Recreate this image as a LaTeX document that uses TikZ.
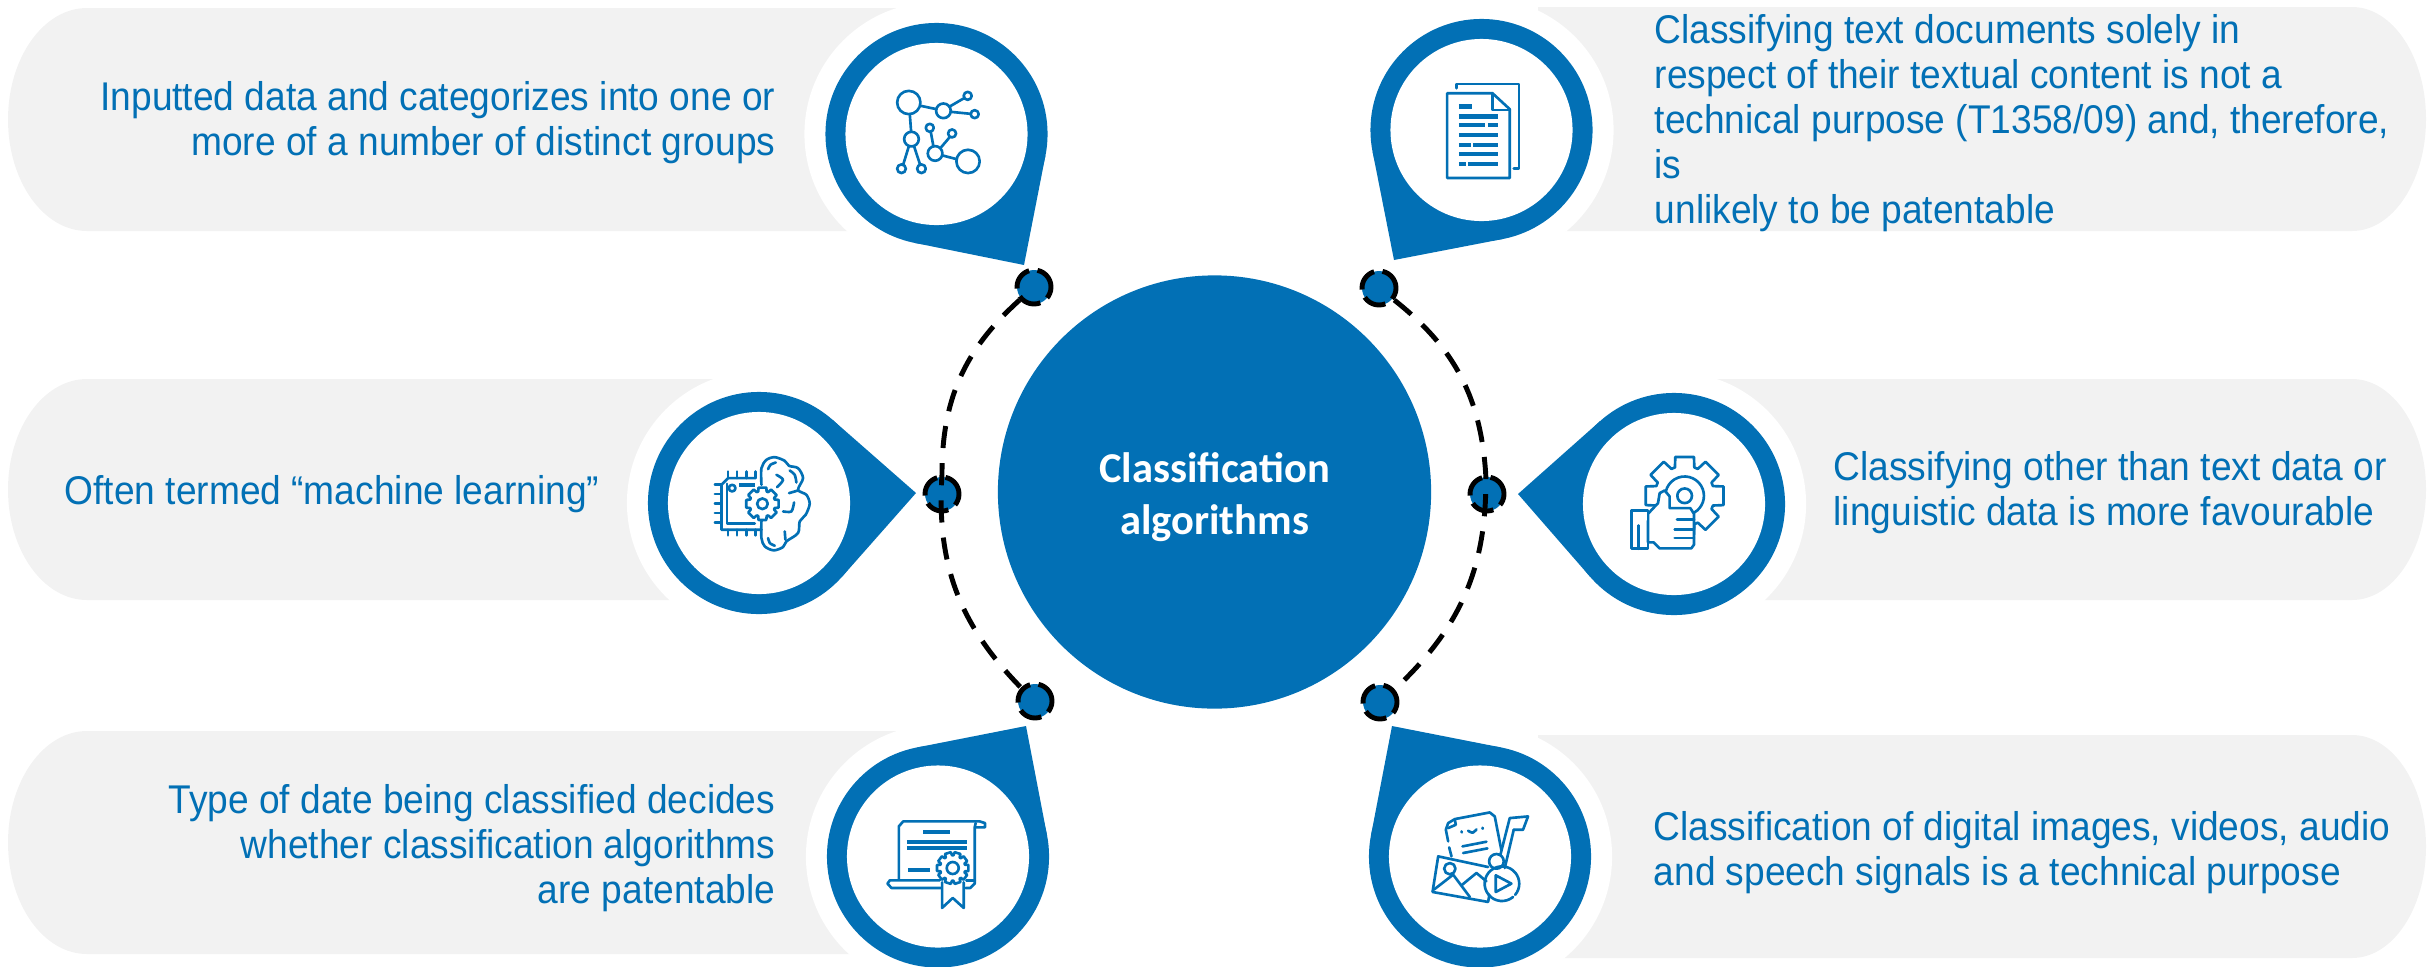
\documentclass[tikz,border=0pt]{standalone}
\usepackage{fontspec}
\setmainfont[FakeStretch=0.926]{Liberation Sans}
\newfontfamily\hubfont{Carlito}
\usetikzlibrary{calc}
\definecolor{pinblue}{HTML}{0270B5}
\definecolor{pillgrey}{HTML}{F2F2F2}
\tikzset{
  halo/.style={circle,fill=white,inner sep=0,outer sep=0,minimum size=2.64cm},
  pinbody/.style={circle,fill=pinblue,inner sep=0,outer sep=0,minimum size=2.22cm},
  pinhole/.style={circle,fill=white,inner sep=0,outer sep=0,minimum size=1.82cm},
  hub/.style={circle,fill=pinblue,inner sep=0,minimum size=4.33cm},
  hubtext/.style={text=white,inner sep=0,align=center,font=\hubfont\bfseries\fontsize{12.1}{14.8}\selectfont},
  dot/.style={circle,fill=pinblue,draw=black,line width=1.4pt,dash pattern=on 6.6pt off 2.4pt,inner sep=0,minimum size=0.34cm},
  ring/.style={line width=1.4pt,dash pattern=on 6.3pt off 4.3pt},
  blurb/.style={text=pinblue,inner sep=0,font=\fontsize{11.4}{12.8}\selectfont},
  zoomed/.style={x=0.0033333cm,y=-0.0033333cm},
  icon/.style={draw=pinblue,line width=0.75pt,line cap=round,line join=round},
  iconbar/.style={draw=pinblue,line width=1.15pt},
}
\newcommand{\cogwheel}[3]{%
  \draw[icon,fill=white] ({-0.3*#1}:#2) \foreach \a in {0,#1,...,359} {
    -- ({\a+0.3*#1}:#2) -- ({\a+0.42*#1}:#3) -- ({\a+0.58*#1}:#3) -- ({\a+0.7*#1}:#2)} -- cycle;}
\begin{document}
\begin{tikzpicture}[x=0.01cm,y=-0.01cm]
  \useasboundingbox (0,0) rectangle (2433,966);

  \fill[pillgrey] (940,8) -- (87,8) arc[start angle=270,end angle=90,x radius=79,y radius=111.5] -- (940,231) -- cycle;
  \fill[pillgrey] (760,379) -- (87,379) arc[start angle=270,end angle=90,x radius=79,y radius=110.5] -- (760,600) -- cycle;
  \fill[pillgrey] (940,731) -- (87,731) arc[start angle=270,end angle=90,x radius=79,y radius=111.5] -- (940,954) -- cycle;
  \fill[pillgrey] (1538,7) -- (2352,7) arc[start angle=-90,end angle=90,x radius=74,y radius=112] -- (1538,231) -- cycle;
  \fill[pillgrey] (1680,379) -- (2352,379) arc[start angle=-90,end angle=90,x radius=74,y radius=110.5] -- (1680,600) -- cycle;
  \fill[pillgrey] (1538,735) -- (2352,735) arc[start angle=-90,end angle=90,x radius=74,y radius=111.5] -- (1538,958) -- cycle;

  \node[halo] (haloTL) at (936.5,134) {};
  \node[halo] (haloML) at (759,503) {};
  \node[halo] (haloBL) at (938,856.5) {};
  \node[halo] (haloTR) at (1481.5,130) {};
  \node[halo] (haloMR) at (1674,504) {};
  \node[halo] (haloBR) at (1480,856.5) {};

  \coordinate (tipTL) at (1024,265);
  \coordinate (tipML) at (916,493);
  \coordinate (tipBL) at (1026,726);
  \coordinate (tipTR) at (1394,260);
  \coordinate (tipMR) at (1518,494);
  \coordinate (tipBR) at (1392,726);

  \node[pinbody] (pinTL) at (936.5,134) {};
  \node[pinbody] (pinML) at (759,503) {};
  \node[pinbody] (pinBL) at (938,856.5) {};
  \node[pinbody] (pinTR) at (1481.5,130) {};
  \node[pinbody] (pinMR) at (1674,504) {};
  \node[pinbody] (pinBR) at (1480,856.5) {};

  \foreach \pos in {TL,ML,BL,TR,MR,BR}
    \fill[pinblue] (tip\pos) -- (tangent cs:node=pin\pos,point={(tip\pos)},solution=1)
      -- (tangent cs:node=pin\pos,point={(tip\pos)},solution=2) -- cycle;

  \node[pinhole] (holeTL) at (936.5,134) {};
  \node[pinhole] (holeML) at (759,503) {};
  \node[pinhole] (holeBL) at (938,856.5) {};
  \node[pinhole] (holeTR) at (1481.5,130) {};
  \node[pinhole] (holeMR) at (1674,504) {};
  \node[pinhole] (holeBR) at (1480,856.5) {};

  \node[hub] (hub) at (1214.5,492) {};
  \node[hubtext] (hubtext) at (1214.5,497) {Classification\\algorithms};

  \node[dot] (dotTL) at (1034,287) {};
  \node[dot] (dotML) at (942,494) {};
  \node[dot] (dotBL) at (1035,701) {};
  \node[dot] (dotTR) at (1379,288) {};
  \node[dot] (dotMR) at (1487,494) {};
  \node[dot] (dotBR) at (1380,702) {};

  \draw[ring] (dotTL) to[bend right=24] (dotML) to[bend right=24] (dotBL);
  \draw[ring] (dotTR) to[bend left=24] (dotMR) to[bend left=24] (dotBR);

  \node[blurb,anchor=east,align=right] (textTL) at (776,123) {Inputted data and categorizes into one or\\more of a number of distinct groups};
  \node[blurb,anchor=west,align=left] (textML) at (64,494) {Often termed “machine learning”};
  \node[blurb,anchor=east,align=right] (textBL) at (776,848) {Type of date being classified decides\\whether classification algorithms\\are patentable};
  \node[blurb,anchor=west,align=left] (textTR) at (1654,123) {Classifying text documents solely in\\respect of their textual content is not a\\technical purpose (T1358/09) and, therefore,\\is\\unlikely to be patentable};
  \node[blurb,anchor=west,align=left] (textMR) at (1833,493) {Classifying other than text data or\\linguistic data is more favourable};
  \node[blurb,anchor=west,align=left] (textBR) at (1653,853) {Classification of digital images, videos, audio\\and speech signals is a technical purpose};

  \begin{scope}[shift={(780,0)},zoomed]
    \foreach \x/\y/\r in {387/308/35,491/333/22,564/288/12,585/343/12,395/418/22,365/507/13,425/507/13,450/384/12,517/401/12,466/461/22,565/485/35}
      \draw[icon] (\x,\y) circle[radius=\r];
    \draw[icon] (423,318) -- (470,328);
    \draw[icon] (510,320) -- (553,295);
    \draw[icon] (513,336) -- (573,342);
    \draw[icon] (390,343) -- (394,396);
    \draw[icon] (387,440) -- (370,495);
    \draw[icon] (403,440) -- (421,495);
    \draw[icon] (453,396) -- (461,440);
    \draw[icon] (510,412) -- (482,445);
    \draw[icon] (488,467) -- (530,478);
  \end{scope}

  \begin{scope}[shift={(1340,0)},zoomed]
    \draw[icon] (350,265) -- (350,252) -- (538,252) -- (538,507) -- (522,507);
    \draw[icon] (458,280) -- (322,280) -- (322,535) -- (510,535) -- (510,328) -- cycle;
    \draw[icon] (458,282) -- (458,330) -- (510,330);
    \foreach \ya/\xa/\xb in {320/357/396,350/357/474,377/357/435,377/444/474,407/357/474,437/357/393,437/399/474,464/357/474,494/357/378,494/384/474}
      \draw[iconbar] (\xa,\ya) -- (\xb,\ya);
  \end{scope}

  \begin{scope}[shift={(620,360)},zoomed]
    \draw[icon] (405,355) -- (325,355) -- (305,375) -- (305,510) -- (425,510);
    \draw[icon] (322,372) -- (322,492) -- (405,492);
    \draw[iconbar] (358,377) -- (405,377);
    \draw[icon] (337,385) circle[radius=10];
    \foreach \y in {375,403,432,460,488}
      \draw[icon] (285,\y) -- (305,\y);
    \foreach \x in {325,352,380,408} {
      \draw[icon] (\x,335) -- (\x,355);
      \draw[icon] (\x,510) -- (\x,527);
    }
    \draw[icon] plot[smooth] coordinates {(425,375) (425,325) (440,300) (465,292) (495,303) (508,318) (535,325) (550,355) (535,390) (560,405) (570,432) (558,465) (540,485) (535,520) (500,545) (490,562) (462,572) (435,560) (425,535) (425,485)};
    \draw[icon] plot[smooth] coordinates {(445,328) (452,315) (468,308)};
    \draw[icon] plot[smooth] coordinates {(470,345) (490,360) (472,382)};
    \draw[icon] plot[smooth] coordinates {(510,332) (525,345) (530,368)};
    \draw[icon] (508,400) -- (535,392);
    \draw[icon] plot[smooth] coordinates {(490,455) (515,455) (523,428)};
    \draw[icon] (495,515) -- (497,540);
    \draw[icon] plot[smooth] coordinates {(445,535) (450,550) (465,558)};
    \begin{scope}[shift={(428,432)}]
      \cogwheel{45}{50}{39}
      \draw[icon] (0,0) circle[radius=16];
    \end{scope}
  \end{scope}

  \begin{scope}[shift={(1450,360)},zoomed]
    \begin{scope}[shift={(705,408)}]
      \cogwheel{45}{120}{90}
      \draw[icon] (0,0) circle[radius=22];
      \draw[icon] (160:58) arc[start angle=160,end angle=420,radius=58];
    \end{scope}
    \draw[icon,fill=white] (595,548) -- (612,548) -- (630,566) -- (725,566) -- (733,555) -- (733,462) -- (722,445) -- (660,445) -- (660,410) -- (645,392) -- (630,400) -- (625,430) -- (595,462) -- cycle;
    \draw[icon,fill=white] (545,452) -- (595,452) -- (595,485);
    \draw[icon] (595,500) -- (595,567) -- (545,567) -- (545,452);
    \draw[icon] (567,497) -- (567,567);
    \draw[icon] (682,480) -- (733,480);
    \draw[icon] (675,510) -- (733,510);
    \draw[icon] (675,535) -- (733,535);
  \end{scope}

  \begin{scope}[shift={(780,660)},zoomed]
    \draw[icon] (357,660) -- (357,500) -- (370,485) -- (600,485) -- (616,490) -- (616,503) -- (588,503);
    \draw[icon] (588,490) -- (585,503) -- (585,672) -- (572,685) -- (558,685);
    \draw[icon] (480,662) -- (330,662) -- (323,672) -- (335,685) -- (485,685);
    \draw[icon] (560,662) -- (585,662);
    \draw[iconbar] (430,516) -- (510,516);
    \draw[iconbar] (381,546) -- (561,546);
    \draw[iconbar] (381,566) -- (561,566);
    \draw[iconbar] (384,630) -- (450,630);
    \draw[icon] (487,668) -- (487,745) -- (519,715) -- (552,745) -- (552,668);
    \begin{scope}[shift={(519,625)}]
      \cogwheel{36}{48}{38}
      \draw[icon] (0,0) circle[radius=18];
    \end{scope}
  \end{scope}

  \begin{scope}[shift={(1340,660)},zoomed]
    \draw[icon] (325,545) -- (318,510) -- (325,490) -- (345,478) -- (450,458) -- (465,470) -- (485,572);
    \draw[icon] (345,480) -- (348,495) -- (325,505);
    \draw[icon] (328,563) -- (335,590);
    \draw[icon] (365,515) -- (366,518);
    \draw[icon] (428,504) -- (429,507);
    \draw[icon] plot[smooth] coordinates {(385,513) (398,519) (410,509)};
    \draw[icon] (368,560) -- (440,546);
    \draw[icon] (370,580) -- (443,566);
    \draw[icon] (445,622) -- (295,590) -- (278,697) -- (445,727) -- (449,705);
    \draw[icon] (330,627) circle[radius=17];
    \draw[icon] (282,690) -- (340,645) -- (390,712);
    \draw[icon] (365,677) -- (410,640) -- (440,665);
    \draw[icon] (520,712) arc[start angle=50,end angle=400,radius=52];
    \draw[icon] (468,647) -- (515,672) -- (468,697) -- cycle;
    \draw[icon] (470,605) circle[radius=22];
    \draw[icon] (482,585) -- (510,475) -- (565,470) -- (550,510) -- (522,510);
    \draw[icon] (522,510) -- (495,625);
  \end{scope}
\end{tikzpicture}
\end{document}
